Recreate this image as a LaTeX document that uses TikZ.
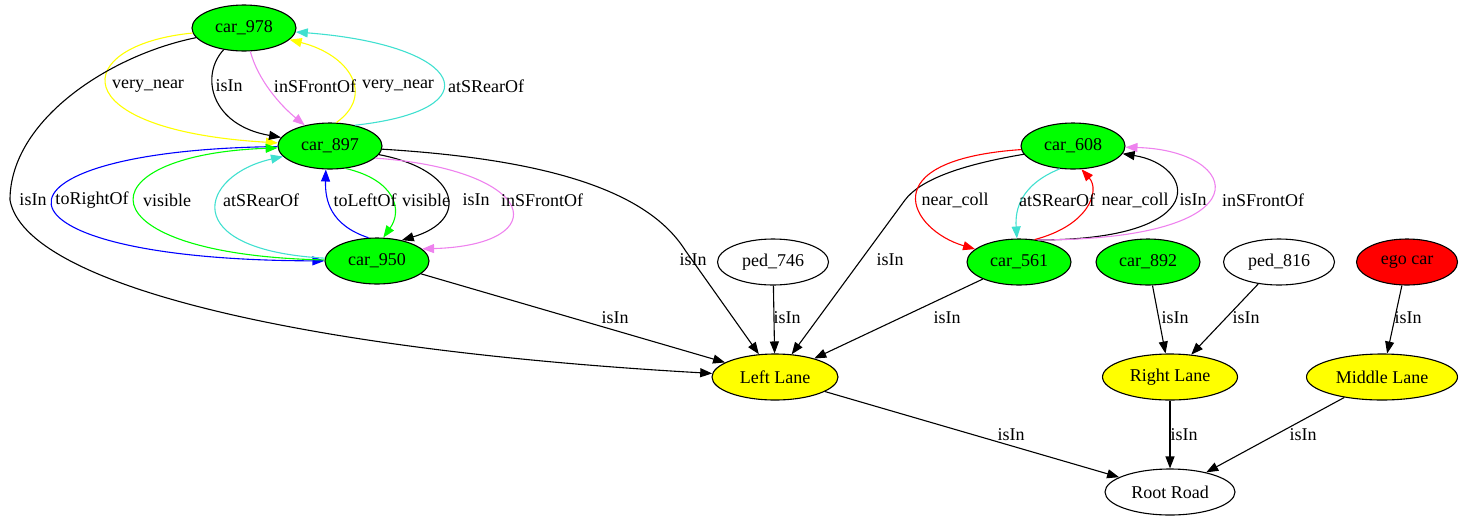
\documentclass[tikz,border=0pt]{standalone}
\usepackage{fontspec}
\setmainfont{Liberation Serif}
\usetikzlibrary{shapes.geometric,arrows.meta}
\definecolor{gvgreen}{RGB}{0,255,0}
\definecolor{gvyellow}{RGB}{255,255,0}
\definecolor{gvred}{RGB}{255,0,0}
\definecolor{gvblue}{RGB}{0,0,255}
\definecolor{gvviolet}{RGB}{238,130,238}
\definecolor{gvturq}{RGB}{64,224,208}
\tikzset{
	obj/.style={ellipse, draw, line width=1.1pt, inner sep=0pt, minimum height=46pt, font=\fontsize{18}{20}\selectfont},
	car/.style={obj, fill=gvgreen, minimum width=104pt},
	ped/.style={obj, minimum width=111pt},
	lane/.style={obj, fill=gvyellow},
	rel/.style={line width=1.1pt, -{Triangle[length=12pt,width=9pt]}},
	lbl/.style={inner sep=0pt, font=\fontsize{18}{20}\selectfont}
}

\begin{document}
\begin{tikzpicture}[x=1pt,y=-1pt]
			%%%%% START %%%%%
			\useasboundingbox (0,0) rectangle (1463,523);
			
			\node[car] (car978) at (244, 28) {car\_978};
			\node[car] (car897) at (330, 146) {car\_897};
			\node[car] (car950) at (377, 261) {car\_950};
			\node[car] (car608) at (1073, 146) {car\_608};
			\node[car] (car561) at (1019, 262) {car\_561};
			\node[car] (car892) at (1148, 262) {car\_892};
			\node[ped] (ped746) at (773, 262) {ped\_746};
			\node[ped] (ped816) at (1279, 262) {ped\_816};
			\node[obj, fill=gvred, minimum width=101pt] (ego) at (1407, 262) {ego car};
			\node[lane, minimum width=126pt] (left) at (775, 377) {Left Lane};
			\node[lane, minimum width=135pt] (right) at (1170, 377) {Right Lane};
			\node[lane, minimum width=151pt] (middle) at (1382, 377) {Middle Lane};
			\node[obj, minimum width=130pt] (root) at (1170, 492) {Root Road};
			
			% car_978 <-> car_897
			\draw[rel, gvyellow] (car978) .. controls (70, 45) and (60, 130) .. (car897);
			\draw[rel] (car978) .. controls (200, 75) and (210, 125) .. (car897);
			\draw[rel, gvviolet] (car978) .. controls (258, 80) and (280, 105) .. (car897);
			\draw[rel, gvyellow] (car897.75) .. controls (375, 95) and (350, 55) .. (car978);
			\draw[rel, gvturq] (car897.40) .. controls (495, 110) and (465, 45) .. (car978);
			\draw[rel] (car978) .. controls (110, 55) and (10, 120) .. (10, 200) .. controls (25, 285) and (300, 350) .. (left);
			
			% car_897 <-> car_950
			\draw[rel, gvblue] (car897) .. controls (-30, 150) and (-30, 260) .. (car950);
			\draw[rel, gvgreen] (car950) .. controls (80, 255) and (80, 155) .. (car897);
			\draw[rel, gvturq] (car950) .. controls (175, 250) and (200, 175) .. (car897);
			\draw[rel, gvblue] (car950.110) .. controls (330, 225) and (325, 200) .. (car897.260);
			\draw[rel, gvgreen] (car897.305) .. controls (395, 180) and (403, 210) .. (car950.75);
			\draw[rel] (car897.350) .. controls (460, 170) and (470, 220) .. (car950.40);
			\draw[rel, gvviolet] (car897.345) .. controls (540, 170) and (555, 245) .. (car950.15);
			\draw[rel] (car897) .. controls (560, 160) and (650, 195) .. (685, 250) -- (left);
			\draw[rel] (car950) -- (left);
			\draw[rel] (ped746) -- (left);
			
			% car_608 <-> car_561
			\draw[rel] (car608) .. controls (960, 165) and (920, 180) .. (905, 200) -- (left);
			\draw[rel, gvred] (car608) .. controls (870, 160) and (910, 230) .. (car561);
			\draw[rel, gvturq] (car608.240) .. controls (1020, 185) and (1015, 210) .. (car561.95);
			\draw[rel, gvred] (car561.55) .. controls (1090, 225) and (1100, 190) .. (car608.290);
			\draw[rel] (car561.50) .. controls (1215, 240) and (1195, 165) .. (car608);
			\draw[rel, gvviolet] (car561.50) .. controls (1270, 240) and (1242, 150) .. (car608);
			\draw[rel] (car561) -- (left);
			
			% lanes and road
			\draw[rel] (car892) -- (right);
			\draw[rel] (ped816) -- (right);
			\draw[rel] (ego) -- (middle);
			\draw[rel] (left) -- (root);
			\draw[rel] (right) -- (root);
			\draw[rel] (middle) -- (root);
			
			% edge labels
			\node[lbl] (l1) at (148, 86) {very\_near};
			\node[lbl] (l2) at (229, 86) {isIn};
			\node[lbl] (l3) at (315, 86) {inSFrontOf};
			\node[lbl] (l4) at (398, 86) {very\_near};
			\node[lbl] (l5) at (486, 86) {atSRearOf};
			\node[lbl] (l6) at (33, 200) {isIn};
			\node[lbl] (l7) at (92, 200) {toRightOf};
			\node[lbl] (l8) at (167, 200) {visible};
			\node[lbl] (l9) at (261, 200) {atSRearOf};
			\node[lbl] (l10) at (365, 200) {toLeftOf};
			\node[lbl] (l11) at (426, 200) {visible};
			\node[lbl] (l12) at (476, 200) {isIn};
			\node[lbl] (l13) at (542, 200) {inSFrontOf};
			\node[lbl] (l14) at (693, 260) {isIn};
			\node[lbl] (l15) at (615, 318) {isIn};
			\node[lbl] (l16) at (787, 318) {isIn};
			\node[lbl] (l17) at (890, 260) {isIn};
			\node[lbl] (l18) at (955, 200) {near\_coll};
			\node[lbl] (l19) at (1057, 200) {atSRearOf};
			\node[lbl] (l20) at (1135, 200) {near\_coll};
			\node[lbl] (l21) at (1193, 200) {isIn};
			\node[lbl] (l22) at (1263, 200) {inSFrontOf};
			\node[lbl] (l23) at (947, 318) {isIn};
			\node[lbl] (l24) at (1175, 318) {isIn};
			\node[lbl] (l25) at (1246, 318) {isIn};
			\node[lbl] (l26) at (1408, 318) {isIn};
			\node[lbl] (l27) at (1011, 435) {isIn};
			\node[lbl] (l28) at (1184, 435) {isIn};
			\node[lbl] (l29) at (1303, 435) {isIn};
			%%%%% END %%%%%
\end{tikzpicture}
\end{document}
